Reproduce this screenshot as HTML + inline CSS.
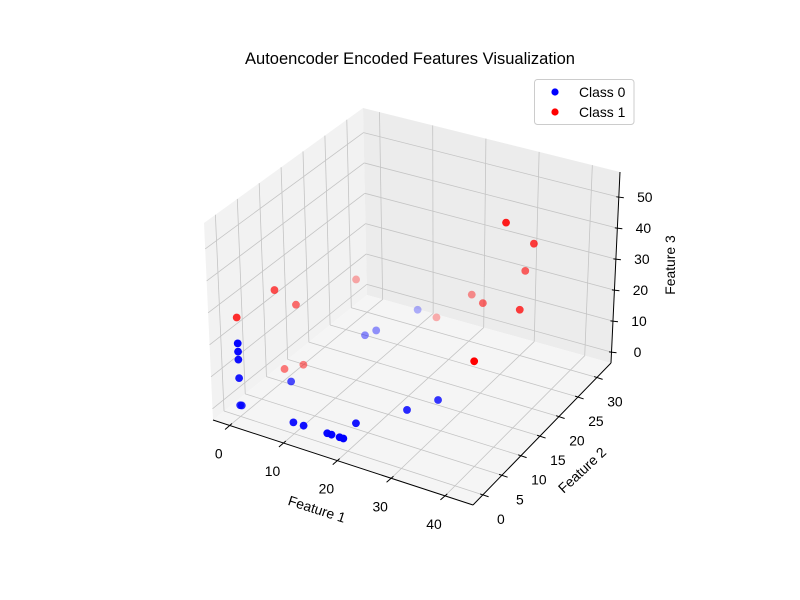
<!DOCTYPE html>
<html><head><meta charset="utf-8"><style>
html,body{margin:0;padding:0;background:#fff;}
svg{display:block;font-family:"Liberation Sans","DejaVu Sans",sans-serif;}
</style></head><body>
<svg id="chart" width="800" height="600" viewBox="0 0 800 600">
<rect width="800" height="600" fill="#fff"/>
<text x="410" y="64" text-anchor="middle" font-size="16.5" fill="#000">Autoencoder Encoded Features Visualization</text>
<g id="panes"></g>
<g id="grid"></g>
<g id="axes"></g>
<g id="points"></g>
<text x="317" y="514" text-anchor="middle" font-size="13.9" transform="rotate(18 317 509)">Feature 1</text>
<text x="582" y="475" text-anchor="middle" font-size="13.9" transform="rotate(-43 582 470)">Feature 2</text>
<text x="675" y="265" text-anchor="middle" font-size="13.9" transform="rotate(-90 675 265)">Feature 3</text>
<g>
<rect x="534.5" y="79.5" width="99.5" height="45" rx="3" fill="#fff" fill-opacity="0.8" stroke="#cccccc"/>
<g>
<circle cx="555" cy="92" r="3.6" fill="#0000ff"/>
<text x="579" y="97" font-size="13.9">Class 0</text>
</g>
<g>
<circle cx="555" cy="112" r="3.6" fill="#ff0000"/>
<text x="579" y="117" font-size="13.9">Class 1</text>
</g>
</g>
</svg>
<script>
// ---- data ----
const class0X = [0, 0.3, 0, 0, 0, 0, 3, 9.9, 11.8, 16.2, 17, 18.5, 19.2, 18.6, 23.7, 26.6, 8.9, 6.4, 5.6];
const class0Y = [0, 0, 0, 0, 0, 0, 8.3, 0, 0, 0, 0, 0, 0, 3.9, 9.85, 13.8, 31.3, 24.4, 22.7];
const class0Z = [0, 0.1, 8.5, 14.3, 16.8, 19.4, 0, 0, 0, 0, 0, 0, 0, 0, 0, 0, 0, 0, 0];
const class1X = [0, 0, 0, 0, 1.9, 0, 13, 20.5, 26.5, 37.2, 34.3, 35.9, 32.2, 39.7];
const class1Y = [0, 8.8, 13.6, 10.5, 12.6, 27.6, 30.8, 30, 25, 20, 20, 25, 28, 5];
const class1Z = [27.5, 26.9, 17.1, 0, 0, 9.9, 0, 11.8, 17.7, 26.5, 52.8, 41.1, 27.2, 29];
const xTicks = [0, 10, 20, 30, 40];
const yTicks = [0, 5, 10, 15, 20, 25, 30];
const zTicks = [0, 10, 20, 30, 40, 50];
const xLim = [-3.1, 45.2];
const yLim = [-2.6, 33.7];
const zLim = [-3.5, 58.1];

// ---- projection (trilinear over screen corners of the axes box) ----
const C = {
  '000':[213,420],'100':[473,505],'010':[367,295],'110':[611,363],
  '001':[204,223],'101':[476,304],'011':[363,108],'111':[620,172]
};
function projN(u,v,w){
  let px=0,py=0;
  for(const a of [0,1])for(const b of [0,1])for(const c of [0,1]){
    const wt=(a?u:1-u)*(b?v:1-v)*(c?w:1-w);
    const p=C[''+a+b+c];px+=wt*p[0];py+=wt*p[1];
  }
  return [px,py];
}
const nx=x=>(x-xLim[0])/(xLim[1]-xLim[0]);
const ny=y=>(y-yLim[0])/(yLim[1]-yLim[0]);
const nz=z=>(z-zLim[0])/(zLim[1]-zLim[0]);
function proj(x,y,z){return projN(nx(x),ny(y),nz(z));}
const NS='http://www.w3.org/2000/svg';
function mk(tag,attrs,parent){const e=document.createElementNS(NS,tag);for(const k in attrs)e.setAttribute(k,attrs[k]);parent.appendChild(e);return e;}
function line(p,q,parent,stroke,w){return mk('line',{x1:p[0],y1:p[1],x2:q[0],y2:q[1],stroke:stroke,'stroke-width':w},parent);}

// panes
const panes=document.getElementById('panes');
function pane(pts,fill,name){
  const el=mk('polygon',{points:pts.map(p=>p.join(',')).join(' '),fill:fill},panes);
  
  
}
pane([projN(0,0,0),projN(0,1,0),projN(0,1,1),projN(0,0,1)],'#f2f2f2','left-pane');
pane([projN(0,1,0),projN(1,1,0),projN(1,1,1),projN(0,1,1)],'#ececec','back-pane');
pane([projN(0,0,0),projN(1,0,0),projN(1,1,0),projN(0,1,0)],'#f5f5f5','floor-pane');

// gridlines
const grid=document.getElementById('grid');
const gc='#c4c4c4',gw=0.8;
xTicks.forEach(t=>{const u=nx(t);
  let el=line(projN(u,0,0),projN(u,1,0),grid,gc,gw);
  
  
  el=line(projN(u,1,0),projN(u,1,1),grid,gc,gw);
  
  
});
yTicks.forEach(t=>{const v=ny(t);
  let el=line(projN(0,v,0),projN(1,v,0),grid,gc,gw);
  
  
  el=line(projN(0,v,0),projN(0,v,1),grid,gc,gw);
  
  
});
zTicks.forEach(t=>{const w=nz(t);
  let el=line(projN(0,0,w),projN(0,1,w),grid,gc,gw);
  
  
  el=line(projN(0,1,w),projN(1,1,w),grid,gc,gw);
  
  
});

// axes lines, ticks, labels
const axes=document.getElementById('axes');
let el=line(projN(0,0,0),projN(1,0,0),axes,'#000',1);


el=line(projN(1,0,0),projN(1,1,0),axes,'#000',1);


el=line(projN(1,1,0),projN(1,1,1),axes,'#000',1);


function tickLabel(x,y,txt,name){
  const t=mk('text',{x:x,y:y,'text-anchor':'middle','font-size':'13.9',fill:'#000'},axes);
  t.textContent=txt;
  
  
}
xTicks.forEach(t=>{const p=proj(t,yLim[0],zLim[0]);
  const e=line([p[0]+2.3,p[1]-2],[p[0]-4.6,p[1]+4],axes,'#000',1);
  
  
  tickLabel(p[0]-11,p[1]+33,String(t),'x-tick-label');
});
yTicks.forEach(t=>{const p=proj(xLim[1],t,zLim[0]);
  const e=line([p[0]-2.8,p[1]-0.9],[p[0]+5.7,p[1]+1.9],axes,'#000',1);
  
  
  tickLabel(p[0]+18,p[1]+29,String(t),'y-tick-label');
});
zTicks.forEach(t=>{const p=proj(xLim[1],yLim[1],t);
  const e=line([p[0]-2.5,p[1]-0.3],[p[0]+5,p[1]+0.6],axes,'#000',1);
  
  
  tickLabel(p[0]+26,p[1]+5,String(t),'z-tick-label');
});

// points with depth shading
const pg=document.getElementById('points');
const all=[];
function addClass(xs,ys,zs,color,cls){
  const ds=xs.map((x,i)=>0.433*nx(x)-0.75*ny(ys[i])+0.5*nz(zs[i]));
  const dmin=Math.min(...ds),dmax=Math.max(...ds);
  xs.forEach((x,i)=>{
    const a=1-0.7*(dmax-ds[i])/((dmax-dmin)||1);
    all.push({x:x,y:ys[i],z:zs[i],d:ds[i],a:a,color:color,cls:cls});
  });
}
addClass(class0X,class0Y,class0Z,'#0000ff',0);
addClass(class1X,class1Y,class1Z,'#ff0000',1);
all.sort((p,q)=>p.d-q.d);
all.forEach(p=>{
  const s=proj(p.x,p.y,p.z);
  const c=mk('circle',{cx:s[0],cy:s[1],r:3.9,fill:p.color,'fill-opacity':p.a.toFixed(3)},pg);
  
  
});
</script>
</body></html>
